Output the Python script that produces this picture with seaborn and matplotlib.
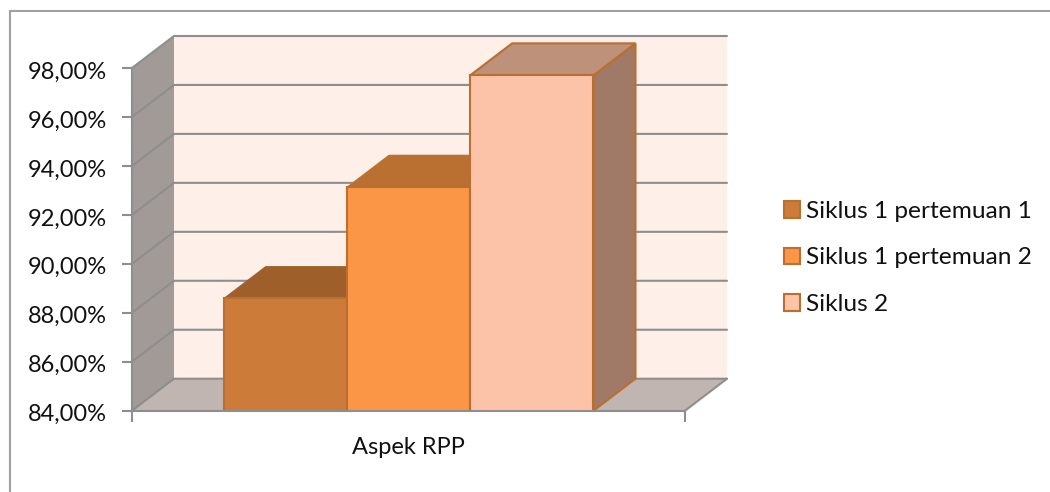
import matplotlib
matplotlib.use('Agg')
import matplotlib.pyplot as plt
import pandas as pd
import seaborn as sns
from matplotlib.lines import Line2D
from matplotlib.patches import Polygon
from matplotlib.ticker import FuncFormatter
from matplotlib.transforms import ScaledTranslation

# values
kategori = ['Aspek RPP']
seri = ['Siklus 1 pertemuan 1', 'Siklus 1 pertemuan 2', 'Siklus 2']
nilai = [88.6, 93.15, 97.7]
y_ticks = [84, 86, 88, 90, 92, 94, 96, 98]

warna_depan = ['#cc7b38', '#fb9646', '#fcc3a9']
warna_atas = ['#9e5f2b', '#b97031', '#bd917a']
warna_sisi = ['#8a5427', '#a9652c', '#a07a67']
warna_garis = '#b96f30'
abu = '#8e8e8e'

sns.set_style('white')
plt.rcParams['font.family'] = ['Lato', 'DejaVu Sans']

df = pd.DataFrame({'aspek': kategori * 3, 'siklus': seri, 'nilai': nilai})

fig = plt.figure(figsize=(10.5, 4.92), dpi=100)
ax = fig.add_axes([132 / 1050, (492 - 410.7) / 492, 553 / 1050, 342.7 / 492])
ax.patch.set_alpha(0)

sns.barplot(data=df, x='aspek', y='nilai', hue='siklus', hue_order=seri,
            palette=warna_depan, saturation=1, width=0.669, gap=0,
            edgecolor=warna_garis, linewidth=1.5, ax=ax)

ax.set_xlim(-0.5, 0.5)
ax.set_ylim(y_ticks[0], y_ticks[-1])

# depth of the fake 3D box, in data units
dx = 42 / 553
dy = 32 / (342.7 / (y_ticks[-1] - y_ticks[0]))
x0, x1 = ax.get_xlim()
y0, y1 = ax.get_ylim()


def muka(titik, warna, z, garis='none'):
    ax.add_patch(Polygon(titik, closed=True, facecolor=warna, edgecolor=garis,
                         linewidth=1.5, clip_on=False, zorder=z))


# walls and floor
muka([(x0 + dx, y0 + dy), (x1 + dx, y0 + dy), (x1 + dx, y1 + dy), (x0 + dx, y1 + dy)], '#feefe8', 0.1)
muka([(x0, y0), (x0 + dx, y0 + dy), (x0 + dx, y1 + dy), (x0, y1)], '#a19a96', 0.2)
muka([(x0, y0), (x1, y0), (x1 + dx, y0 + dy), (x0 + dx, y0 + dy)], '#c0b5b1', 0.2)

# gridlines on back wall and side wall
for t in y_ticks:
    ax.plot([x0, x0 + dx, x1 + dx], [t, t + dy, t + dy], color=abu, lw=1.5,
            clip_on=False, zorder=0.5, solid_joinstyle='miter')
ax.plot([x1, x1 + dx], [y0, y0 + dy], color=abu, lw=1.5, clip_on=False, zorder=0.5)

# bars, left one first so the next bar covers its depth
for i, wadah in enumerate(ax.containers):
    for bar in wadah:
        kiri = bar.get_x()
        kanan = kiri + bar.get_width()
        puncak = bar.get_height()
        z = 2 + i
        garis_3d = warna_garis if i == 2 else 'none'
        muka([(kanan, y0), (kanan + dx, y0 + dy), (kanan + dx, puncak + dy), (kanan, puncak)],
             warna_sisi[i], z, garis_3d)
        muka([(kiri, puncak), (kanan, puncak), (kanan + dx, puncak + dy), (kiri + dx, puncak + dy)],
             warna_atas[i], z, garis_3d)
        bar.set_zorder(z + 0.5)

ax.set_xlabel('')
ax.set_ylabel('')
ax.set_yticks(y_ticks)
ax.yaxis.set_major_formatter(FuncFormatter(lambda v, _: f'{v:.2f}%'.replace('.', ',')))
ax.set_xticks([x0, x1], minor=True)
ax.tick_params(axis='x', which='major', length=0, pad=19, labelsize=17, labelcolor='#111111')
ax.tick_params(axis='x', which='minor', bottom=True, length=8, width=1.5, color=abu)
ax.tick_params(axis='y', left=True, length=7, width=1.5, color=abu, pad=11, labelsize=17, labelcolor='#111111')

# the y labels sit a little under their ticks
geser = ScaledTranslation(0, -2 / 100, fig.dpi_scale_trans)
for lab in ax.get_yticklabels():
    lab.set_transform(lab.get_transform() + geser)

sns.despine(ax=ax, top=True, right=True)
for sisi in ['left', 'bottom']:
    ax.spines[sisi].set_color(abu)
    ax.spines[sisi].set_linewidth(1.5)
    ax.spines[sisi].set_zorder(6)

sns.move_legend(ax, 'center left', bbox_to_anchor=(784 / 1050, 1 - 258 / 492),
                bbox_transform=fig.transFigure, title=None, frameon=False,
                fontsize=17.6, handlelength=0.66, handleheight=0.66, handletextpad=0.25,
                labelspacing=1.04, borderpad=0, borderaxespad=0, labelcolor='#111111')

# outer chart frame, only top and left fall inside the crop
fig.add_artist(Line2D([9.5 / 1050, 9.5 / 1050, 1], [0, 1 - 10.5 / 492, 1 - 10.5 / 492],
                      color='#a0a0a0', lw=1.5, solid_joinstyle='miter'))

fig.savefig('out.png', dpi=100)
